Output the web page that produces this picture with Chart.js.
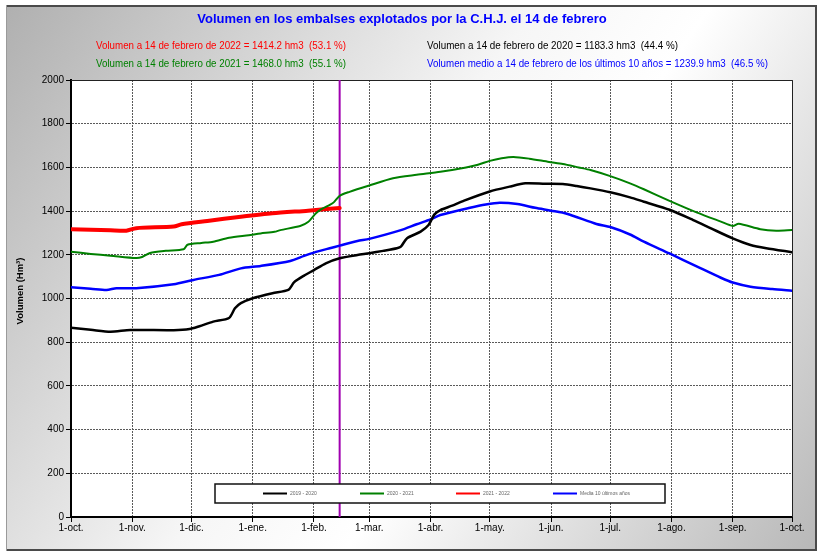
<!DOCTYPE html>
<html>
<head>
<meta charset="utf-8">
<script src="https://cdn.jsdelivr.net/npm/chart.js@4.4.0/dist/chart.umd.min.js"></script>
<style>
html,body{margin:0;padding:0;background:#fff;}
#wrap{width:822px;height:555px;position:relative;}
</style>
</head>
<body>
<div id="wrap"><canvas id="c" width="822" height="555"></canvas></div>
<script>
// ---- Data ----
const monthDays = [0, 31, 61, 92, 123, 151, 182, 212, 243, 273, 304, 335, 365];
const monthLabels = ['1-oct.','1-nov.','1-dic.','1-ene.','1-feb.','1-mar.','1-abr.','1-may.','1-jun.','1-jul.','1-ago.','1-sep.','1-oct.'];
const markerDay = 136; // 14 de febrero

const seriesLabels = ['2019 - 2020', '2020 - 2021', '2021 - 2022', 'Media 10 últimos años'];

const days1920 = [0,10,20,30,52,60,65,72,80,83,86,92,102,110,113,118,123,129,136,145,151,158,165,167,170,177,181,184,187,193,199,212,222,230,240,249,256,263,273,283,290,303,315,324,335,344,352,365];
const vals1920 = [866,857,848,856,855,860,873,894,911,955,979,1001,1024,1039,1075,1105,1130,1161,1184,1199,1207,1218,1230,1237,1275,1306,1336,1385,1405,1425,1448,1490,1512,1527,1525,1524,1515,1504,1486,1463,1443,1406,1359,1321,1275,1245,1230,1212];

const days2021 = [0,10,20,33,36,40,48,57,59,66,72,80,90,96,103,106,116,120,124,127,131,133,136,141,151,163,175,187,200,206,212,218,224,232,242,249,257,263,273,283,290,303,317,329,335,338,349,357,365];
const vals2021 = [1214,1204,1196,1185,1190,1208,1218,1225,1246,1254,1260,1278,1290,1298,1305,1313,1332,1350,1390,1410,1428,1440,1470,1488,1517,1550,1566,1580,1600,1612,1630,1642,1648,1640,1625,1616,1600,1588,1560,1527,1500,1447,1393,1352,1332,1342,1317,1310,1313];

const days2122 = [0,10,20,28,33,52,56,69,86,102,120,136];
const vals2122 = [1317,1315,1312,1310,1322,1329,1340,1355,1374,1390,1402,1414];

const daysMedia = [0,10,18,23,33,52,62,75,86,96,111,118,123,131,136,145,151,167,175,182,187,202,210,217,226,235,243,251,266,273,283,290,303,317,329,335,344,355,365];
const valsMedia = [1051,1045,1039,1047,1047,1065,1085,1108,1138,1149,1172,1195,1210,1230,1242,1263,1273,1313,1340,1362,1382,1415,1430,1438,1432,1415,1402,1388,1341,1327,1293,1260,1206,1146,1095,1073,1054,1043,1036];

const titleText = 'Volumen en los embalses explotados por la C.H.J. el 14 de febrero';
const noteTexts = [
  'Volumen a 14 de febrero de 2022 = 1414.2 hm3  (53.1 %)',
  'Volumen a 14 de febrero de 2021 = 1468.0 hm3  (55.1 %)',
  'Volumen a 14 de febrero de 2020 = 1183.3 hm3  (44.4 %)',
  'Volumen medio a 14 de febrero de los últimos 10 años = 1239.9 hm3  (46.5 %)'
];
const yAxisTitle = 'Volumen (Hm³)';

// ---- Helpers ----
function pts(d, v) { return d.map((x, i) => ({x: x, y: v[i]})); }
const FONT = '"Liberation Sans", Arial, sans-serif';

const framePlugin = {
  id: 'frame',
  beforeDraw(chart) {
    const {ctx, chartArea: a} = chart;
    ctx.save();
    ctx.fillStyle = '#fff';
    ctx.fillRect(0, 0, chart.width, chart.height);
    const g = ctx.createLinearGradient(7, 7, 815, 549);
    g.addColorStop(0, '#b0b0b0');
    g.addColorStop(0.45, '#f6f6f6');
    g.addColorStop(0.6, '#ffffff');
    g.addColorStop(1, '#b8b8b8');
    ctx.fillStyle = g;
    ctx.fillRect(7, 7, 808, 542);
    ctx.fillStyle = '#4a4a4a';
    ctx.fillRect(6, 5, 811, 2);
    ctx.fillRect(815, 5, 2, 546);
    ctx.fillRect(6, 549, 811, 2);
    ctx.fillStyle = '#9a9a9a';
    ctx.fillRect(6, 5, 1, 546);
    ctx.fillStyle = '#ffffff';
    ctx.fillRect(a.left, a.top, a.right - a.left, a.bottom - a.top);
    ctx.restore();
  },
  beforeDatasetsDraw(chart) {
    const {ctx, chartArea: a, scales} = chart;
    ctx.save();
    ctx.strokeStyle = '#222';
    ctx.lineWidth = 1;
    ctx.beginPath();
    ctx.moveTo(a.left, a.top + 0.5);
    ctx.lineTo(a.right + 0.5, a.top + 0.5);
    ctx.lineTo(a.right + 0.5, a.bottom);
    ctx.stroke();
    const mx = scales.x.getPixelForValue(markerDay);
    ctx.strokeStyle = '#a000b0';
    ctx.lineWidth = 2;
    ctx.beginPath();
    ctx.moveTo(mx, a.top);
    ctx.lineTo(mx, a.bottom);
    ctx.stroke();
    ctx.restore();
  },
  afterDatasetsDraw(chart) {
    const {ctx} = chart;
    ctx.save();
    const bx = 215, by = 484, bw = 450, bh = 19;
    ctx.fillStyle = '#fff';
    ctx.fillRect(bx, by, bw, bh);
    ctx.strokeStyle = '#111';
    ctx.lineWidth = 1.5;
    ctx.strokeRect(bx, by, bw, bh);
    const starts = [263, 360, 456, 553];
    const ly = 493.5;
    chart.data.datasets.forEach((ds, i) => {
      ctx.strokeStyle = ds.borderColor;
      ctx.lineWidth = 2;
      ctx.beginPath();
      ctx.moveTo(starts[i], ly);
      ctx.lineTo(starts[i] + 24, ly);
      ctx.stroke();
      ctx.fillStyle = '#666';
      ctx.font = '5px ' + FONT;
      ctx.textAlign = 'left';
      ctx.textBaseline = 'middle';
      ctx.fillText(ds.label, starts[i] + 27, ly);
    });
    ctx.restore();
  },
  afterDraw(chart) {
    const {ctx} = chart;
    ctx.save();
    ctx.textBaseline = 'middle';
    ctx.textAlign = 'center';
    ctx.fillStyle = '#0000ff';
    ctx.font = 'bold 13px ' + FONT;
    ctx.fillText(titleText, 402, 19, 422);
    ctx.textAlign = 'left';
    ctx.font = '10px ' + FONT;
    ctx.fillStyle = '#ff0000';
    ctx.fillText(noteTexts[0], 96, 46, 250);
    ctx.fillStyle = '#008000';
    ctx.fillText(noteTexts[1], 96, 64, 250);
    ctx.fillStyle = '#000000';
    ctx.fillText(noteTexts[2], 427, 46, 251);
    ctx.fillStyle = '#0000ff';
    ctx.fillText(noteTexts[3], 427, 64, 341);
    ctx.translate(20, 291);
    ctx.rotate(-Math.PI / 2);
    ctx.textAlign = 'center';
    ctx.fillStyle = '#000';
    ctx.font = 'bold 9.5px ' + FONT;
    ctx.fillText(yAxisTitle, 0, 0);
    ctx.restore();
  }
};

Chart.defaults.font.family = FONT;
Chart.defaults.color = '#000';

new Chart(document.getElementById('c'), {
  type: 'line',
  data: {
    datasets: [
      {label: seriesLabels[0], data: pts(days1920, vals1920), borderColor: '#000000', borderWidth: 2.5},
      {label: seriesLabels[1], data: pts(days2021, vals2021), borderColor: '#008000', borderWidth: 2},
      {label: seriesLabels[2], data: pts(days2122, vals2122), borderColor: '#ff0000', borderWidth: 4},
      {label: seriesLabels[3], data: pts(daysMedia, valsMedia), borderColor: '#0000ff', borderWidth: 2.5}
    ]
  },
  options: {
    responsive: false,
    animation: false,
    devicePixelRatio: 1,
    layout: {padding: {top: 80, right: 30, left: 0, bottom: 0}},
    elements: {
      point: {radius: 0},
      line: {tension: 0.25, fill: false, borderCapStyle: 'round', borderJoinStyle: 'round'}
    },
    plugins: {legend: {display: false}, tooltip: {enabled: false}, title: {display: false}},
    scales: {
      x: {
        type: 'linear',
        min: 0,
        max: 365,
        afterBuildTicks(scale) { scale.ticks = monthDays.map(v => ({value: v})); },
        afterFit(scale) { scale.height = 38; },
        ticks: {
          autoSkip: false,
          maxRotation: 0,
          padding: 0,
          font: {size: 10},
          color: '#000',
          callback(v) { const i = monthDays.indexOf(v); return i >= 0 ? monthLabels[i] : ''; }
        },
        grid: {color: '#5a5a5a', lineWidth: 1, tickLength: 5, tickColor: '#000'},
        border: {display: true, color: '#000', width: 2, dash: [2, 1]}
      },
      y: {
        min: 0,
        max: 2000,
        afterFit(scale) { scale.width = 71; },
        ticks: {stepSize: 200, padding: 2, font: {size: 10}, color: '#000', callback(v) { return String(v); }},
        grid: {color: '#5a5a5a', lineWidth: 1, tickLength: 5, tickColor: '#000'},
        border: {display: true, color: '#000', width: 2, dash: [2, 1]}
      }
    }
  },
  plugins: [framePlugin]
});
</script>
</body>
</html>
